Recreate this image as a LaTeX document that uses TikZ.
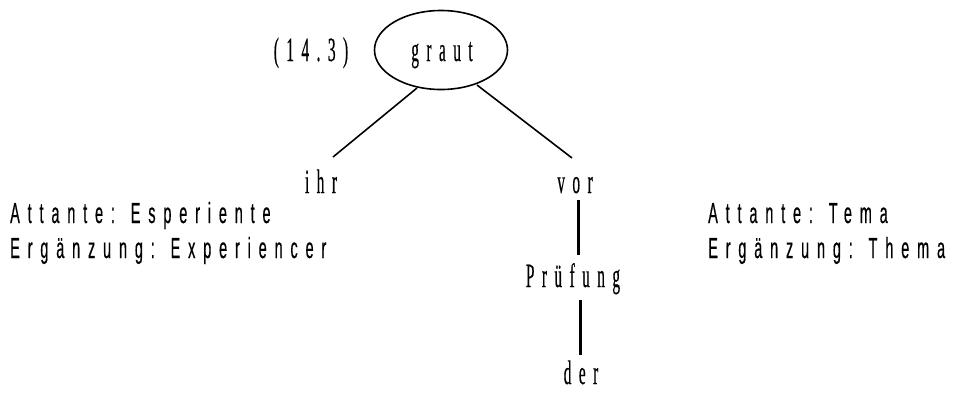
\documentclass[tikz,border=0pt]{standalone}
\usepackage{fontspec}
\usetikzlibrary{shapes.geometric}
\newfontfamily\treefont[FakeStretch=0.45,LetterSpace=22,FakeBold=0.4]{Liberation Serif}
\newfontfamily\labfont[FakeStretch=0.5,LetterSpace=27,FakeBold=0.4]{Liberation Sans}
\begin{document}
\begin{tikzpicture}[x=1pt,y=-1pt,
  word/.style={font=\fontsize{34}{34}\treefont, inner sep=0pt, anchor=base},
  lab/.style={font=\fontsize{29}{29}\labfont, inner sep=0pt, anchor=base west},
  edge/.style={line width=1.6pt}]
\useasboundingbox (0,0) rectangle (962,392);
\node[draw, ellipse, line width=1.6pt, minimum width=133, minimum height=79, inner sep=0pt] (graut) at (441,50) {};
\node[word] (grautt) at (442,61) {graut};
\node[word] (num) at (311,61) {(14.3)};
\node[word] (ihr) at (321,193) {ihr};
\node[word] (vor) at (575,193) {vor};
\node[word] (pr) at (573,287) {Prüfung};
\node[word] (der) at (581,384) {der};
\coordinate (l1) at (417,88); \coordinate (l2) at (333,157);
\coordinate (r1) at (477,85); \coordinate (r2) at (572,158);
\draw[edge] (l1) -- (l2);
\draw[edge] (r1) -- (r2);
\coordinate (v1) at (578,200); \coordinate (v2) at (578,255);
\coordinate (d1) at (580,300); \coordinate (d2) at (580,355);
\draw[line width=3pt] (v1) -- (v2);
\draw[line width=3pt] (d1) -- (d2);
\node[lab] (a1) at (10,223) {Attante: Esperiente};
\node[lab] (a2) at (10,258) {Ergänzung: Experiencer};
\node[lab] (b1) at (708,223) {Attante: Tema};
\node[lab] (b2) at (708,258) {Ergänzung: Thema};
\end{tikzpicture}
\end{document}
